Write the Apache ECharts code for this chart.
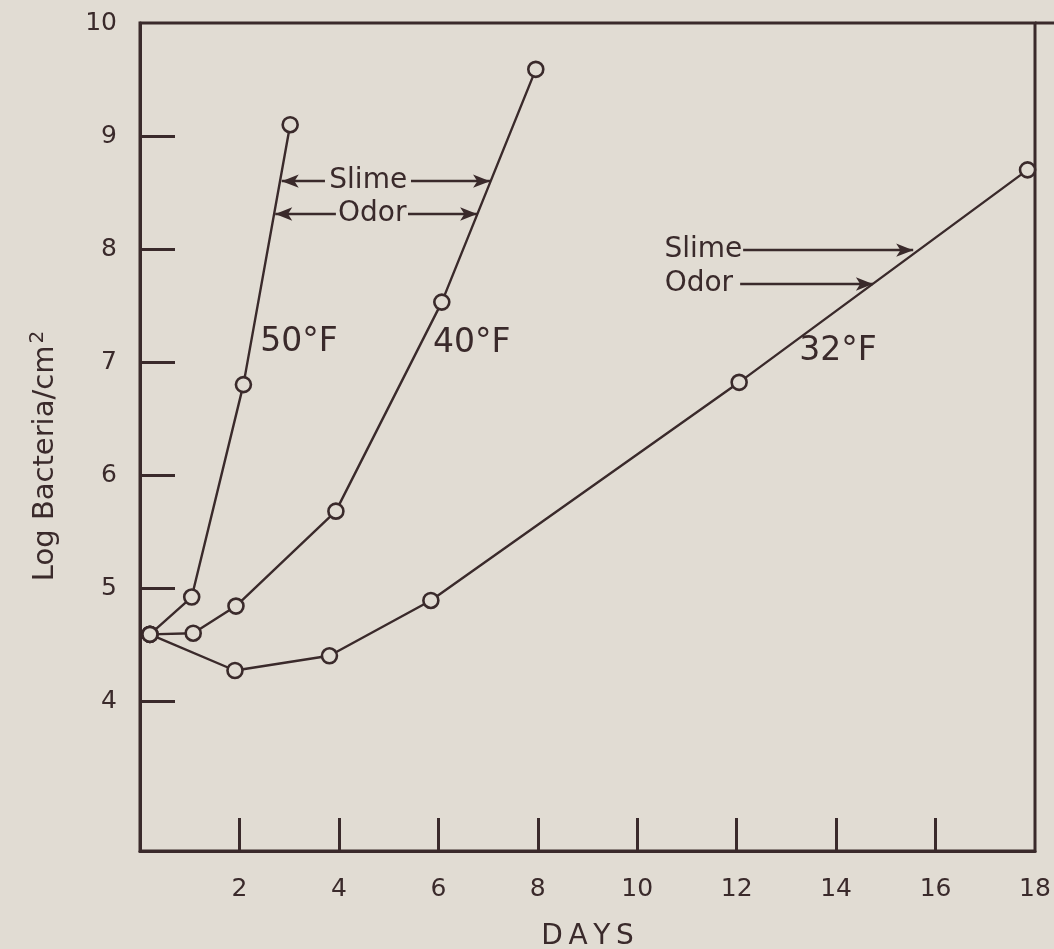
<!DOCTYPE html>
<html><head><meta charset="utf-8">
<script src="https://cdn.jsdelivr.net/npm/echarts@6/dist/echarts.min.js"></script>
<style>html,body{margin:0;padding:0;background:#e1dcd3;}#c{width:1054px;height:949px;}</style>
</head><body><div id="c"></div>
<script>
// ---- data ----
const xTickLabels = [2, 4, 6, 8, 10, 12, 14, 16, 18];
const yTickLabels = [4, 5, 6, 7, 8, 9, 10];
const days50 = [0.2, 1.04, 2.08, 3.02];
const log50  = [4.59, 4.92, 6.80, 9.10];
const days40 = [0.2, 1.07, 1.93, 3.94, 6.07, 7.96];
const log40  = [4.59, 4.60, 4.84, 5.68, 7.53, 9.59];
const days32 = [0.2, 1.91, 3.81, 5.85, 12.05, 17.85];
const log32  = [4.59, 4.27, 4.40, 4.89, 6.82, 8.70];
const seriesNames = ['50°F', '40°F', '32°F'];
// temperature label anchors [day, log]
const tempLabelAt = [[3.20, 7.17], [6.67, 7.16], [14.04, 7.09]];
// annotation arrows: [fromDay, toDay, log]
const arrows = [
  [3.72, 2.85, 8.60], [5.45, 7.04, 8.60],
  [3.94, 2.72, 8.31], [5.39, 6.78, 8.31],
  [12.13, 15.55, 7.99], [12.07, 14.74, 7.69]
];
// annotation texts: [text, day, log]
const notes = [
  ['Slime', 4.59, 8.60], ['Odor', 4.67, 8.31],
  ['Slime', 11.33, 7.99], ['Odor', 11.24, 7.69]
];

// ---- style ----
const INK = '#3a2a2b';
const BG = '#e1dcd3';
const FONT = 'DejaVu Sans';

const pairs = (xs, ys) => xs.map((d, i) => [d, ys[i]]);
const allData = [pairs(days50, log50), pairs(days40, log40), pairs(days32, log32)];

const series = allData.map((data, k) => ({
  type: 'line',
  name: seriesNames[k],
  data: data,
  symbol: 'circle',
  symbolSize: 15,
  itemStyle: { color: BG, borderColor: INK, borderWidth: 2.6 },
  lineStyle: { color: INK, width: 2.4 },
  emphasis: { disabled: true },
  z: 3,
  markPoint: {
    silent: true,
    symbol: 'circle', symbolSize: 0,
    itemStyle: { color: 'rgba(0,0,0,0)' },
    label: { show: true, position: 'inside', color: INK, fontFamily: FONT, fontSize: 33 },
    data: [{ coord: tempLabelAt[k], value: seriesNames[k], label: { formatter: seriesNames[k] } }]
  }
}));

// annotation arrows and texts on an extra empty series
series.push({
  type: 'line', data: [], silent: true,
  markLine: {
    silent: true,
    symbol: ['none', 'arrow'],
    symbolSize: [10, 17],
    lineStyle: { color: INK, width: 2.4, type: 'solid' },
    label: { show: false },
    data: arrows.map(a => [{ coord: [a[0], a[2]] }, { coord: [a[1], a[2]] }])
  },
  markPoint: {
    silent: true,
    symbol: 'circle', symbolSize: 0,
    itemStyle: { color: 'rgba(0,0,0,0)' },
    label: { show: true, position: 'inside', color: INK, fontFamily: FONT, fontSize: 28 },
    data: notes.map(n => ({ coord: [n[1], n[2]], label: { formatter: n[0] } }))
  }
});

const chart = echarts.init(document.getElementById('c'), null, { renderer: 'canvas' });
chart.setOption({
  animation: false,
  backgroundColor: BG,
  grid: { left: 140, right: 19, top: 23, bottom: 98, containLabel: false, outerBoundsMode: 'none', show: true, borderColor: INK, borderWidth: 3, backgroundColor: 'transparent' },
  xAxis: {
    type: 'value', min: 0, max: 18, interval: 2,
    name: 'D\u2009A\u2009Y\u2009S', nameLocation: 'middle', nameGap: 72,
    nameTextStyle: { color: INK, fontFamily: FONT, fontSize: 28 },
    axisLine: { show: true, lineStyle: { color: INK, width: 3 } },
    axisTick: { show: true, inside: true, length: 33, lineStyle: { color: INK, width: 3 }, customValues: [2, 4, 6, 8, 10, 12, 14, 16] },
    axisLabel: { color: INK, fontFamily: FONT, fontSize: 25, margin: 26, customValues: xTickLabels },
    splitLine: { show: false }
  },
  yAxis: {
    type: 'value', min: 2.6726, max: 10,
    name: '{a|Log Bacteria/cm}{s|2}', nameLocation: 'middle', nameGap: 78, nameRotate: 90,
    nameTextStyle: {
      color: INK, fontFamily: FONT, padding: [0, 38, 0, 0],
      rich: {
        a: { fontSize: 29, color: INK, fontFamily: FONT },
        s: { fontSize: 20, color: INK, fontFamily: FONT, verticalAlign: 'top', padding: [0, 0, 14, 2] }
      }
    },
    axisLine: { show: true, lineStyle: { color: INK, width: 3 } },
    axisTick: { show: true, inside: true, length: 35, lineStyle: { color: INK, width: 3 }, customValues: [4, 5, 6, 7, 8, 9] },
    axisLabel: { color: INK, fontFamily: FONT, fontSize: 25, margin: 23, customValues: yTickLabels },
    splitLine: { show: false }
  },
  graphic: [{ type: 'line', shape: { x1: 1035, y1: 23, x2: 1054, y2: 23 }, style: { stroke: INK, lineWidth: 3 } }],
  series: series
});
</script>
</body></html>
